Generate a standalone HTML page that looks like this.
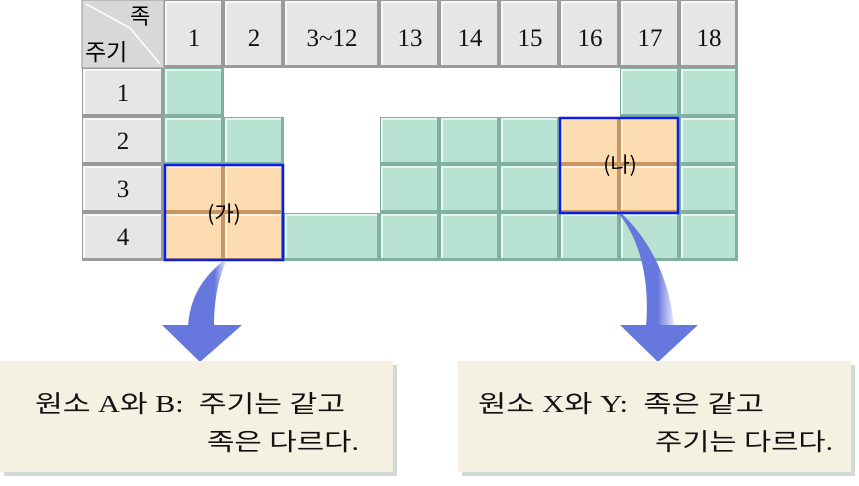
<!DOCTYPE html>
<html><head><meta charset="utf-8"><style>
body{margin:0;background:#fff;}
text{font-family:"Liberation Serif","Noto Sans CJK KR",serif;}
.k{font-family:"Noto Sans CJK KR",sans-serif;}
</style></head><body>
<svg width="859" height="481" viewBox="0 0 859 481" xmlns="http://www.w3.org/2000/svg">
<!-- gray header tiles -->
<g>
<rect x="82" y="0" width="82" height="68" fill="#d8d8d8" stroke="#999"/>
<line x1="86" y1="4" x2="130" y2="28" stroke="#fff" stroke-width="1.5"/>
<line x1="130" y1="28" x2="160" y2="64" stroke="#fff" stroke-width="1.5"/>
</g>
<g id="gray">
<!-- header row -->
<rect x="164" y="0" width="60" height="68" fill="#9a9a9a"/><rect x="165" y="1" width="56" height="64" fill="#f8f8f8"/><rect x="167" y="3" width="54" height="62" fill="#e6e6e6"/>
<rect x="224" y="0" width="60" height="68" fill="#9a9a9a"/><rect x="225" y="1" width="56" height="64" fill="#f8f8f8"/><rect x="227" y="3" width="54" height="62" fill="#e6e6e6"/>
<rect x="284" y="0" width="96" height="68" fill="#9a9a9a"/><rect x="285" y="1" width="92" height="64" fill="#f8f8f8"/><rect x="287" y="3" width="90" height="62" fill="#e6e6e6"/>
<rect x="380" y="0" width="60" height="68" fill="#9a9a9a"/><rect x="381" y="1" width="56" height="64" fill="#f8f8f8"/><rect x="383" y="3" width="54" height="62" fill="#e6e6e6"/>
<rect x="440" y="0" width="60" height="68" fill="#9a9a9a"/><rect x="441" y="1" width="56" height="64" fill="#f8f8f8"/><rect x="443" y="3" width="54" height="62" fill="#e6e6e6"/>
<rect x="500" y="0" width="60" height="68" fill="#9a9a9a"/><rect x="501" y="1" width="56" height="64" fill="#f8f8f8"/><rect x="503" y="3" width="54" height="62" fill="#e6e6e6"/>
<rect x="560" y="0" width="60" height="68" fill="#9a9a9a"/><rect x="561" y="1" width="56" height="64" fill="#f8f8f8"/><rect x="563" y="3" width="54" height="62" fill="#e6e6e6"/>
<rect x="620" y="0" width="60" height="68" fill="#9a9a9a"/><rect x="621" y="1" width="56" height="64" fill="#f8f8f8"/><rect x="623" y="3" width="54" height="62" fill="#e6e6e6"/>
<rect x="680" y="0" width="58" height="68" fill="#9a9a9a"/><rect x="681" y="1" width="54" height="64" fill="#f8f8f8"/><rect x="683" y="3" width="52" height="62" fill="#e6e6e6"/>
<!-- row headers -->
<rect x="82" y="68" width="82" height="49" fill="#9a9a9a"/><rect x="83" y="69" width="78" height="45" fill="#f8f8f8"/><rect x="85" y="71" width="76" height="43" fill="#e6e6e6"/>
<rect x="82" y="117" width="82" height="48" fill="#9a9a9a"/><rect x="83" y="118" width="78" height="44" fill="#f8f8f8"/><rect x="85" y="120" width="76" height="42" fill="#e6e6e6"/>
<rect x="82" y="165" width="82" height="48" fill="#9a9a9a"/><rect x="83" y="166" width="78" height="44" fill="#f8f8f8"/><rect x="85" y="168" width="76" height="42" fill="#e6e6e6"/>
<rect x="82" y="213" width="82" height="48" fill="#9a9a9a"/><rect x="83" y="214" width="78" height="44" fill="#f8f8f8"/><rect x="85" y="216" width="76" height="42" fill="#e6e6e6"/>
</g>
<g>
<!-- green row1 -->
<rect x="164" y="68" width="60" height="49" fill="#7fb0a2"/><rect x="165" y="69" width="56" height="45" fill="#e4f6ef"/><rect x="167" y="71" width="54" height="43" fill="#b8e2d2"/>
<rect x="620" y="68" width="60" height="49" fill="#7fb0a2"/><rect x="621" y="69" width="56" height="45" fill="#e4f6ef"/><rect x="623" y="71" width="54" height="43" fill="#b8e2d2"/>
<rect x="680" y="68" width="58" height="49" fill="#7fb0a2"/><rect x="681" y="69" width="54" height="45" fill="#e4f6ef"/><rect x="683" y="71" width="52" height="43" fill="#b8e2d2"/>
<!-- row2 -->
<rect x="164" y="117" width="60" height="48" fill="#7fb0a2"/><rect x="165" y="118" width="56" height="44" fill="#e4f6ef"/><rect x="167" y="120" width="54" height="42" fill="#b8e2d2"/>
<rect x="224" y="117" width="60" height="48" fill="#7fb0a2"/><rect x="225" y="118" width="56" height="44" fill="#e4f6ef"/><rect x="227" y="120" width="54" height="42" fill="#b8e2d2"/>
<rect x="380" y="117" width="60" height="48" fill="#7fb0a2"/><rect x="381" y="118" width="56" height="44" fill="#e4f6ef"/><rect x="383" y="120" width="54" height="42" fill="#b8e2d2"/>
<rect x="440" y="117" width="60" height="48" fill="#7fb0a2"/><rect x="441" y="118" width="56" height="44" fill="#e4f6ef"/><rect x="443" y="120" width="54" height="42" fill="#b8e2d2"/>
<rect x="500" y="117" width="60" height="48" fill="#7fb0a2"/><rect x="501" y="118" width="56" height="44" fill="#e4f6ef"/><rect x="503" y="120" width="54" height="42" fill="#b8e2d2"/>
<rect x="680" y="117" width="58" height="48" fill="#7fb0a2"/><rect x="681" y="118" width="54" height="44" fill="#e4f6ef"/><rect x="683" y="120" width="52" height="42" fill="#b8e2d2"/>
<!-- row3 -->
<rect x="380" y="165" width="60" height="48" fill="#7fb0a2"/><rect x="381" y="166" width="56" height="44" fill="#e4f6ef"/><rect x="383" y="168" width="54" height="42" fill="#b8e2d2"/>
<rect x="440" y="165" width="60" height="48" fill="#7fb0a2"/><rect x="441" y="166" width="56" height="44" fill="#e4f6ef"/><rect x="443" y="168" width="54" height="42" fill="#b8e2d2"/>
<rect x="500" y="165" width="60" height="48" fill="#7fb0a2"/><rect x="501" y="166" width="56" height="44" fill="#e4f6ef"/><rect x="503" y="168" width="54" height="42" fill="#b8e2d2"/>
<rect x="680" y="165" width="58" height="48" fill="#7fb0a2"/><rect x="681" y="166" width="54" height="44" fill="#e4f6ef"/><rect x="683" y="168" width="52" height="42" fill="#b8e2d2"/>
<!-- row4 -->
<rect x="284" y="213" width="96" height="48" fill="#7fb0a2"/><rect x="285" y="214" width="92" height="44" fill="#e4f6ef"/><rect x="287" y="216" width="90" height="42" fill="#b8e2d2"/>
<rect x="380" y="213" width="60" height="48" fill="#7fb0a2"/><rect x="381" y="214" width="56" height="44" fill="#e4f6ef"/><rect x="383" y="216" width="54" height="42" fill="#b8e2d2"/>
<rect x="440" y="213" width="60" height="48" fill="#7fb0a2"/><rect x="441" y="214" width="56" height="44" fill="#e4f6ef"/><rect x="443" y="216" width="54" height="42" fill="#b8e2d2"/>
<rect x="500" y="213" width="60" height="48" fill="#7fb0a2"/><rect x="501" y="214" width="56" height="44" fill="#e4f6ef"/><rect x="503" y="216" width="54" height="42" fill="#b8e2d2"/>
<rect x="560" y="213" width="60" height="48" fill="#7fb0a2"/><rect x="561" y="214" width="56" height="44" fill="#e4f6ef"/><rect x="563" y="216" width="54" height="42" fill="#b8e2d2"/>
<rect x="620" y="213" width="60" height="48" fill="#7fb0a2"/><rect x="621" y="214" width="56" height="44" fill="#e4f6ef"/><rect x="623" y="216" width="54" height="42" fill="#b8e2d2"/>
<rect x="680" y="213" width="58" height="48" fill="#7fb0a2"/><rect x="681" y="214" width="54" height="44" fill="#e4f6ef"/><rect x="683" y="216" width="52" height="42" fill="#b8e2d2"/>
</g>
<g>
<!-- orange -->
<rect x="164" y="165" width="60" height="48" fill="#c89660"/><rect x="165" y="166" width="56" height="44" fill="#fff0dc"/><rect x="167" y="168" width="54" height="42" fill="#fcdcb0"/>
<rect x="224" y="165" width="60" height="48" fill="#c89660"/><rect x="225" y="166" width="56" height="44" fill="#fff0dc"/><rect x="227" y="168" width="54" height="42" fill="#fcdcb0"/>
<rect x="164" y="213" width="60" height="48" fill="#c89660"/><rect x="165" y="214" width="56" height="44" fill="#fff0dc"/><rect x="167" y="216" width="54" height="42" fill="#fcdcb0"/>
<rect x="224" y="213" width="60" height="48" fill="#c89660"/><rect x="225" y="214" width="56" height="44" fill="#fff0dc"/><rect x="227" y="216" width="54" height="42" fill="#fcdcb0"/>
<rect x="560" y="117" width="60" height="48" fill="#c89660"/><rect x="561" y="118" width="56" height="44" fill="#fff0dc"/><rect x="563" y="120" width="54" height="42" fill="#fcdcb0"/>
<rect x="620" y="117" width="60" height="48" fill="#c89660"/><rect x="621" y="118" width="56" height="44" fill="#fff0dc"/><rect x="623" y="120" width="54" height="42" fill="#fcdcb0"/>
<rect x="560" y="165" width="60" height="48" fill="#c89660"/><rect x="561" y="166" width="56" height="44" fill="#fff0dc"/><rect x="563" y="168" width="54" height="42" fill="#fcdcb0"/>
<rect x="620" y="165" width="60" height="48" fill="#c89660"/><rect x="621" y="166" width="56" height="44" fill="#fff0dc"/><rect x="623" y="168" width="54" height="42" fill="#fcdcb0"/>
<rect x="165" y="165" width="118" height="95" fill="none" stroke="#0a1ee6" stroke-width="2.5"/>
<rect x="560" y="118" width="118" height="95" fill="none" stroke="#0a1ee6" stroke-width="2.5"/>
</g>
<!-- text in grid -->
<g font-size="25" text-anchor="middle" fill="#111">
<text x="194" y="46">1</text><text x="254" y="46">2</text><text x="332" y="46">3~12</text>
<text x="410" y="46">13</text><text x="470" y="46">14</text><text x="530" y="46">15</text>
<text x="590" y="46">16</text><text x="650" y="46">17</text><text x="709" y="46">18</text>
<text x="123" y="101">1</text><text x="123" y="149">2</text><text x="123" y="197">3</text><text x="123" y="245">4</text>
</g>
<text class="k" x="130" y="24" font-size="22">족</text>
<text class="k" x="85" y="60" font-size="23">주기</text>
<text class="k" x="224" y="221" font-size="21" text-anchor="middle">(가)</text>
<text class="k" x="620" y="172" font-size="21" text-anchor="middle">(나)</text>
<!-- arrows -->
<defs>
<linearGradient id="ag" x1="0" x2="1" y1="0" y2="0">
<stop offset="0" stop-color="#6677dd"/><stop offset="0.7" stop-color="#6677dd"/><stop offset="1" stop-color="#6677dd" stop-opacity="0.15"/>
</linearGradient>
</defs>
<path d="M222 262 C200 280 190 300 188 326 L214 326 C214 300 218 280 226 262 Z" fill="url(#ag)"/>
<path d="M162 325 L242 325 L200 362 Z" fill="#6677dd"/>
<path d="M619 214 C640 240 650 280 646 326 L674 326 C670 280 650 240 622 214 Z" fill="url(#ag)"/>
<path d="M620 325 L698 325 L658 362 Z" fill="#6677dd"/>
<!-- boxes -->
<rect x="4" y="365" width="393" height="111" fill="#d2d8d4"/>
<rect x="0" y="361" width="393" height="111" fill="#f5f1e2"/>
<rect x="462" y="365" width="393" height="111" fill="#d2d8d4"/>
<rect x="458" y="361" width="393" height="111" fill="#f5f1e2"/>
<g font-size="24" fill="#111">
<text x="35" y="412" textLength="310" lengthAdjust="spacingAndGlyphs">원소 A와 B:&#160;&#160;주기는 같고</text>
<text x="207" y="450" textLength="152" lengthAdjust="spacingAndGlyphs">족은 다르다.</text>
<text x="478" y="412" textLength="286" lengthAdjust="spacingAndGlyphs">원소 X와 Y:&#160;&#160;족은 같고</text>
<text x="655" y="450" textLength="178" lengthAdjust="spacingAndGlyphs">주기는 다르다.</text>
</g>
</svg>
</body></html>
